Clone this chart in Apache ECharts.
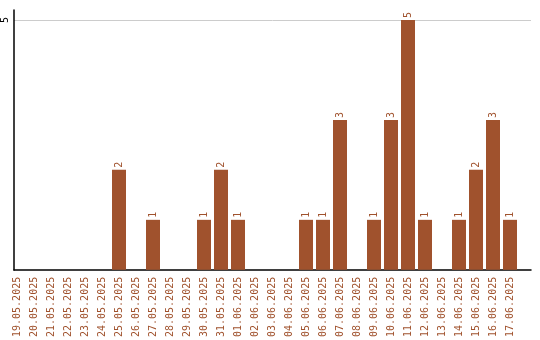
<!DOCTYPE html>
<html><head><meta charset="utf-8">
<script src="https://cdn.jsdelivr.net/npm/echarts@6/dist/echarts.min.js"></script>
<style>html,body{margin:0;padding:0;background:#fff}#c{width:540px;height:340px}</style>
</head><body><div id="c"></div>
<script>
const categories = ["19.05.2025","20.05.2025","21.05.2025","22.05.2025","23.05.2025","24.05.2025","25.05.2025","26.05.2025","27.05.2025","28.05.2025","29.05.2025","30.05.2025","31.05.2025","01.06.2025","02.06.2025","03.06.2025","04.06.2025","05.06.2025","06.06.2025","07.06.2025","08.06.2025","09.06.2025","10.06.2025","11.06.2025","12.06.2025","13.06.2025","14.06.2025","15.06.2025","16.06.2025","17.06.2025"];
const counts = [null,null,null,null,null,null,2,null,1,null,null,1,2,1,null,null,null,1,1,3,null,1,3,5,1,null,1,2,3,1];
const yTicks = [5];

const brown = '#A0522D';
const font = 'DejaVu Sans Mono';
const chart = echarts.init(document.getElementById('c'), null, {renderer: 'canvas'});
chart.setOption({
  animation: false,
  grid: [
    {left: 11, right: 9, top: 10, bottom: 70},
    {left: 8.5, right: 21.5, top: 10, bottom: 70}
  ],
  xAxis: [
    {gridIndex: 0, type: 'value', min: 0, max: 1, axisLine: {show: true, lineStyle: {color: '#000', width: 1.5}}, axisTick: {show: false}, axisLabel: {show: false}, splitLine: {show: false}},
    {gridIndex: 1, type: 'category', data: categories, boundaryGap: true,
     axisLine: {show: false}, axisTick: {show: false},
     axisLabel: {interval: 0, rotate: 90, color: brown, fontFamily: font, fontSize: 10, margin: 7}}
  ],
  yAxis: [
    {gridIndex: 0, type: 'value', min: 0, max: 5.2, interval: 5,
     axisLine: {show: true, lineStyle: {color: '#000', width: 1.5}}, axisTick: {show: false},
     splitLine: {show: true, showMaxLine: false, showMinLine: false, lineStyle: {color: '#cccccc', width: 1}},
     axisLabel: {rotate: 90, color: '#000', fontFamily: font, fontSize: 10, margin: 4,
       formatter: v => yTicks.indexOf(v) >= 0 ? String(v) : ''}},
    {gridIndex: 1, type: 'value', min: 0, max: 5.2, show: false}
  ],
  series: [{
    type: 'bar', xAxisIndex: 1, yAxisIndex: 1, data: counts, barWidth: 14,
    itemStyle: {color: brown},
    label: {show: true, position: 'top', rotate: 90, align: 'left', verticalAlign: 'middle', distance: 2,
      color: brown, fontFamily: font, fontSize: 10}
  }]
});
</script></body></html>
